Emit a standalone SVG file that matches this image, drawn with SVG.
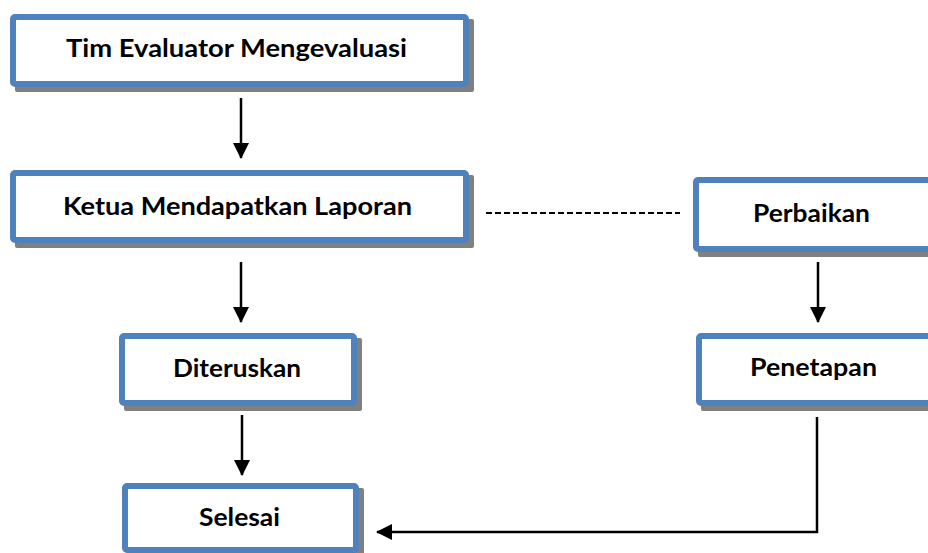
<svg xmlns="http://www.w3.org/2000/svg" width="928" height="553" viewBox="0 0 928 553">
<style>
.box{fill:#fff;stroke:#4f81bd;stroke-width:6}
.sh{fill:#808080}
.t{font-family:Lato,"Liberation Sans",sans-serif;font-weight:bold;font-size:24px;fill:#000;text-anchor:middle}
.c{fill:none;stroke:#000;stroke-width:2.5}
.d{fill:none;stroke:#000;stroke-width:2.2;stroke-dasharray:6 3}
</style>
<defs>
<marker id="ah" markerUnits="userSpaceOnUse" markerWidth="16" markerHeight="16" refX="15" refY="8" orient="auto">
<path d="M0,0 L16,8 L0,16 Z" fill="#000"/>
</marker>
</defs>
<g id="n1">
<rect class="sh" x="15" y="19" width="459" height="73" rx="2"/>
<rect class="box" x="13" y="17" width="453" height="67" rx="2"/>
<text class="t" x="236.5" y="57" textLength="341" lengthAdjust="spacingAndGlyphs">Tim Evaluator Mengevaluasi</text>
</g>
<g id="n2">
<rect class="sh" x="15" y="175" width="459" height="73" rx="2"/>
<rect class="box" x="13" y="173" width="453" height="67" rx="2"/>
<text class="t" x="237.5" y="215" textLength="349" lengthAdjust="spacingAndGlyphs">Ketua Mendapatkan Laporan</text>
</g>
<g id="n3">
<rect class="sh" x="698" y="182" width="246" height="75" rx="2"/>
<rect class="box" x="696" y="180" width="240" height="69" rx="2"/>
<text class="t" x="811.5" y="222" textLength="117" lengthAdjust="spacingAndGlyphs">Perbaikan</text>
</g>
<g id="n4">
<rect class="sh" x="124" y="338" width="238" height="73" rx="2"/>
<rect class="box" x="122" y="336" width="232" height="67" rx="2"/>
<text class="t" x="237" y="377" textLength="128" lengthAdjust="spacingAndGlyphs">Diteruskan</text>
</g>
<g id="n5">
<rect class="sh" x="701" y="338" width="246" height="73" rx="2"/>
<rect class="box" x="699" y="336" width="240" height="67" rx="2"/>
<text class="t" x="813.5" y="376" textLength="127" lengthAdjust="spacingAndGlyphs">Penetapan</text>
</g>
<g id="n6">
<rect class="sh" x="127" y="488" width="237" height="70" rx="2"/>
<rect class="box" x="125" y="486" width="231" height="64" rx="2"/>
<text class="t" x="239.5" y="526" textLength="81" lengthAdjust="spacingAndGlyphs">Selesai</text>
</g>
<g id="connectors">
<line class="c" x1="241" y1="98" x2="241" y2="158" marker-end="url(#ah)"/>
<line class="c" x1="241" y1="262" x2="241" y2="322" marker-end="url(#ah)"/>
<line class="c" x1="818" y1="262" x2="818" y2="322" marker-end="url(#ah)"/>
<line class="c" x1="242" y1="415" x2="242" y2="475" marker-end="url(#ah)"/>
<polyline class="c" points="817,417 817,532 377,532" marker-end="url(#ah)"/>
<line class="d" x1="486" y1="213" x2="680" y2="213"/>
</g>
</svg>
